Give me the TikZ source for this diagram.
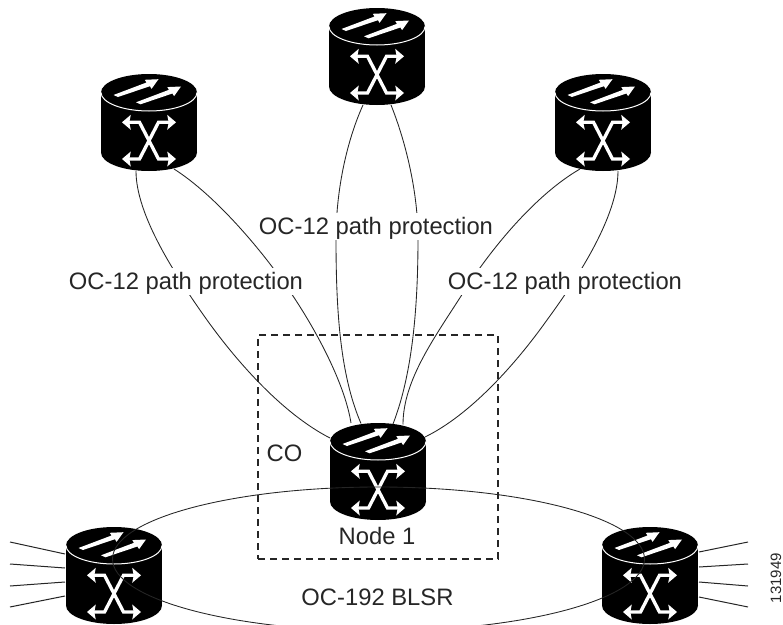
\documentclass[tikz,border=0pt]{standalone}
\usepackage{fontspec}
\setmainfont{Liberation Sans}
\definecolor{ink}{HTML}{262626}
\tikzset{
  x=0.75pt,y=-0.75pt,
  routerbox/.style={rectangle,minimum width=72pt,minimum height=72.75pt,inner sep=0pt,outer sep=0pt},
  wire/.style={draw=ink,line width=0.65pt},
  stub/.style={draw=ink,line width=0.75pt},
  lbl/.style={font=\fontsize{17.84pt}{20pt}\selectfont,text=ink,inner sep=0pt,text height=12.8pt,text depth=0pt},
  pathlbl/.style={lbl,fill=white,minimum height=20.25pt,inner xsep=1pt},
  cobox/.style={draw=ink,dash pattern=on 5.5pt off 3.5pt,line width=0.8pt,rectangle,inner sep=0pt,minimum width=180pt,minimum height=168pt},
  router/.pic={
    \begin{scope}[yshift=36.375pt]
      \fill[black] (0,18.5) ellipse [x radius=36pt,y radius=13.875pt];
      \fill[black] (0,78.5) ellipse [x radius=36pt,y radius=13.875pt];
      \fill[black] (-48,18.5) rectangle (48,78.5);
      \draw[white,line width=0.75pt] (-48,18.5) .. controls (-48,28.7) and (-26.5,37) .. (0,37) .. controls (26.5,37) and (48,28.7) .. (48,18.5);
      \foreach \dx/\dy in {0/0,22.5/7.3}{
        \fill[white,shift={(\dx,\dy)}] (-35.5,21) -- (-2.5,8.5) -- (-4.2,5.8) -- (9.5,5.2) -- (2.6,14.8) -- (0.9,12.2) -- (-31,23) -- cycle;
      }
      \draw[white,line width=2.5pt,line join=miter] (-20,48.3) -- (-9.5,48.3) -- (9.5,85) -- (20,85);
      \draw[white,line width=2.5pt,line join=miter] (20,48.3) -- (9.5,48.3) -- (-9.5,85) -- (-20,85);
      \foreach \sx in {-1,1}{\foreach \yy in {48.3,85}{
        \fill[white] (\sx*27,\yy) -- (\sx*18.2,\yy-7.5) -- (\sx*19.7,\yy) -- (\sx*18.2,\yy+7.5) -- cycle;
      }}
    \end{scope}
  }
}
\begin{document}
\begin{tikzpicture}
\useasboundingbox (0,0) rectangle (783,625);
% router anchors
\node[routerbox] (tm) at (377,56.5) {};
\node[routerbox] (tl) at (149,122.5) {};
\node[routerbox] (tr) at (603,122.5) {};
\node[routerbox] (n1) at (378,471.5) {};
\node[routerbox] (bl) at (114,575.5) {};
\node[routerbox] (br) at (650,575.5) {};
% CO box
\node[cobox] (co) at (378,447) {};
% path protection curves
\draw[wire] ([shift={(-13,48.5)}]tl.center) .. controls (136,215) and (175,275) .. (207,320) .. controls (240,366) and (285,415) .. ([shift={(-48,-33.5)}]n1.center);
\draw[wire] ([shift={(25,46.5)}]tl.center) .. controls (215,195) and (262,250) .. (291,293) .. controls (318,333) and (345,385) .. ([shift={(-27,-48.5)}]n1.center);
\draw[wire] ([shift={(-14,48.5)}]tm.center) .. controls (345,145) and (336,195) .. (336,238) .. controls (336,310) and (340,375) .. ([shift={(-17,-48)}]n1.center);
\draw[wire] ([shift={(14,48.5)}]tm.center) .. controls (407,145) and (418,195) .. (418,238) .. controls (418,310) and (412,375) .. ([shift={(15,-47.5)}]n1.center);
\draw[wire] ([shift={(-23,46.5)}]tr.center) .. controls (535,195) and (490,250) .. (463,293) .. controls (435,337) and (403,380) .. ([shift={(25,-47)}]n1.center);
\draw[wire] ([shift={(15,48.5)}]tr.center) .. controls (618,215) and (580,275) .. (547,320) .. controls (515,365) and (470,415) .. ([shift={(47,-34.5)}]n1.center);
% labels
\node[pathlbl] (l1) at (186,281) {OC-12 path protection};
\node[pathlbl] (l2) at (376,226) {OC-12 path protection};
\node[pathlbl] (l3) at (565,281) {OC-12 path protection};
\node[lbl] (colabel) at (284.5,453) {CO};
\node[lbl] (nodelabel) at (377,536) {Node 1};
\node[lbl] (ringlabel) at (377.5,597) {OC-192 BLSR};
\node[font=\fontsize{11.25pt}{13pt}\selectfont,text=ink,rotate=90,inner sep=0pt] (fig) at (776,578) {131949};
% routers
\foreach \r in {tm,tl,tr,n1,bl,br}{ \pic at (\r.center) {router}; }
% stubs
\coordinate (sl1) at (10,542);
\coordinate (sl2) at (10,564);
\coordinate (sl3) at (10,586);
\coordinate (sl4) at (10,607);
\coordinate (sr1) at (748,542);
\coordinate (sr2) at (748,564);
\coordinate (sr3) at (748,586);
\coordinate (sr4) at (748,607);
\draw[stub] (sl1) -- ([shift={(-49,-21.5)}]bl.center);
\draw[stub] (sl2) -- ([shift={(-49,-7.5)}]bl.center);
\draw[stub] (sl3) -- ([shift={(-49,6.5)}]bl.center);
\draw[stub] (sl4) -- ([shift={(-49,20.5)}]bl.center);
\draw[stub] (sr1) -- ([shift={(49,-23.5)}]br.center);
\draw[stub] (sr2) -- ([shift={(49,-8.5)}]br.center);
\draw[stub] (sr3) -- ([shift={(49,6.5)}]br.center);
\draw[stub] (sr4) -- ([shift={(49,21.5)}]br.center);
% ring
\coordinate (ringL) at ([shift={(-1.5,-16.5)}]bl.center);
\coordinate (ringR) at ([shift={(-5.5,-16.5)}]br.center);
\begin{scope}
\clip (0,0) rectangle (783,625);
\draw[wire] (ringL) .. controls (112.5,519.2) and (231.6,487) .. (378.5,487) .. controls (525.4,487) and (644.5,519.2) .. (ringR);
\draw[wire] (ringL) .. controls (112.5,598.8) and (231.6,631) .. (378.5,631) .. controls (525.4,631) and (644.5,598.8) .. (ringR);
\end{scope}
\end{tikzpicture}
\end{document}
